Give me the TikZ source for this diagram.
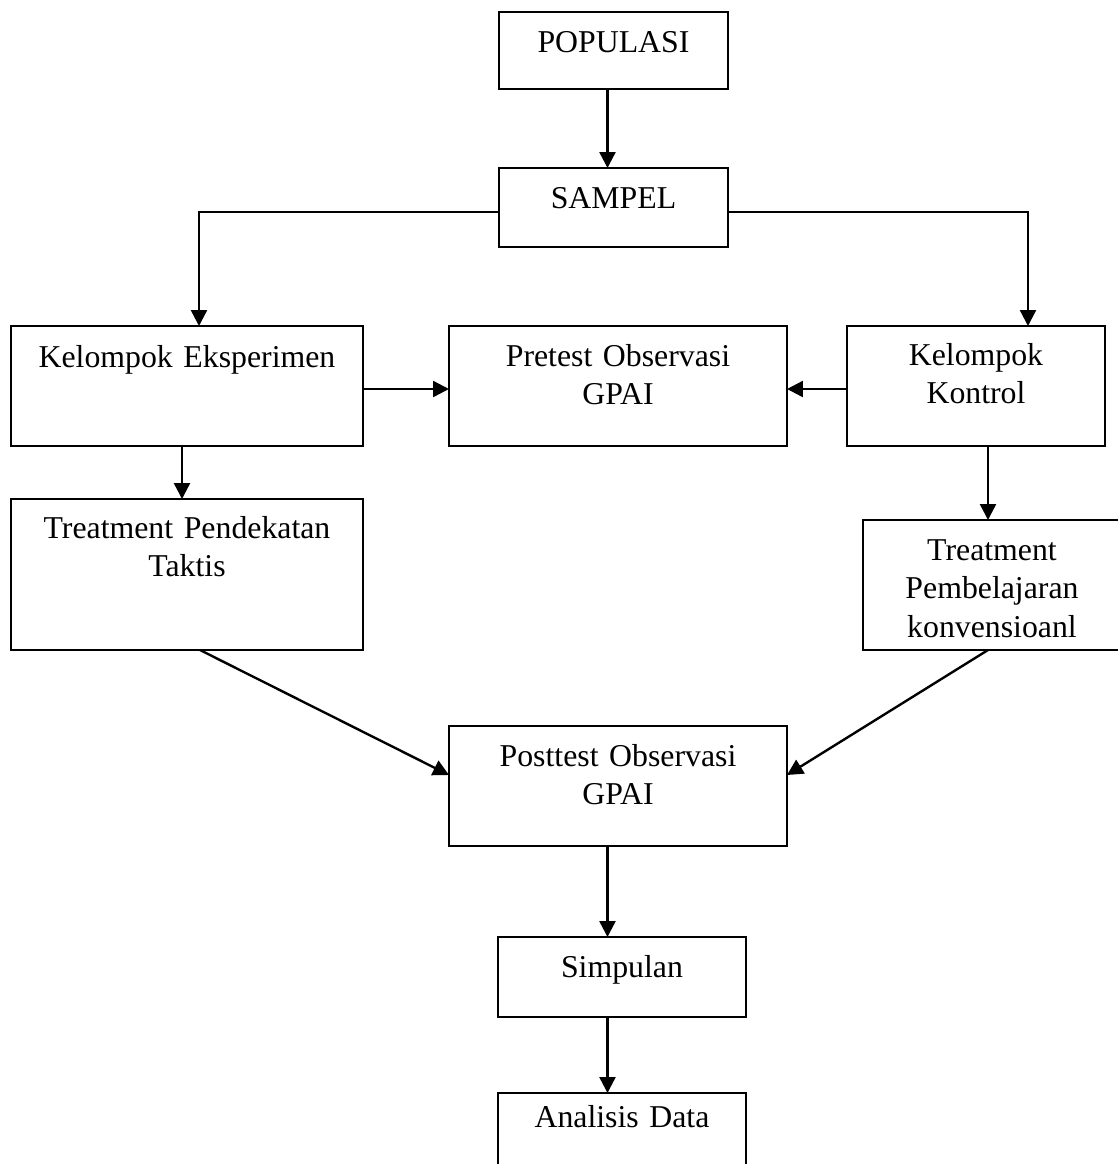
\documentclass[tikz,border=0pt]{standalone}
\usepackage{fontspec}
\setmainfont{Liberation Serif}
\usetikzlibrary{arrows.meta,positioning}
\newcommand{\sat}{0.3774pt}

\begin{document}
\begin{tikzpicture}[x=\sat,y=-\sat,
    kotak/.style={draw,line width=0.6pt,inner sep=0pt,outer sep=0pt},
    teks/.style={font=\fontsize{12}{14.7}\selectfont,align=center,anchor=base,inner sep=0pt},
    panah/.style={line width=0.9pt,-{Triangle[length=6pt,width=6pt]}}]

        % page is 1118 x 1164, y runs downward
        \fill[white] (0,0) rectangle (1118,1164);
        \clip (0,0) rectangle (1118,1164);

        % boxes
        \node[kotak,minimum width=229*\sat,minimum height=77*\sat] (pop) at (613.5,50.5) {};
        \node[kotak,minimum width=229*\sat,minimum height=79*\sat] (samp) at (613.5,207.5) {};
        \node[kotak,minimum width=352*\sat,minimum height=120*\sat] (ke) at (187,386) {};
        \node[kotak,minimum width=338*\sat,minimum height=120*\sat] (pre) at (618,386) {};
        \node[kotak,minimum width=258*\sat,minimum height=120*\sat] (kk) at (976,386) {};
        \node[kotak,minimum width=352*\sat,minimum height=151*\sat] (tp) at (187,574.5) {};
        \node[kotak,minimum width=258*\sat,minimum height=130*\sat] (tb) at (992,585) {};
        \node[kotak,minimum width=338*\sat,minimum height=120*\sat] (post) at (618,786) {};
        \node[kotak,minimum width=248*\sat,minimum height=80*\sat] (simp) at (622,977) {};
        \node[kotak,minimum width=248*\sat,minimum height=80*\sat] (anal) at (622,1133) {};

        % texts, first baseline about 40 below the top edge
        \node[teks,text width=220*\sat] (popT) at ([yshift=-40*\sat]pop.north) {POPULASI};
        \node[teks,text width=220*\sat] (sampT) at ([yshift=-40*\sat]samp.north) {SAMPEL};
        \node[teks,text width=340*\sat] (keT) at ([yshift=-41*\sat]ke.north) {Kelompok Eksperimen};
        \node[teks,text width=330*\sat] (preT) at ([yshift=-40*\sat]pre.north) {Pretest Observasi\\GPAI};
        \node[teks,text width=250*\sat] (kkT) at ([yshift=-39*\sat]kk.north) {Kelompok\\Kontrol};
        \node[teks,text width=340*\sat] (tpT) at ([yshift=-39*\sat]tp.north) {Treatment Pendekatan\\Taktis};
        \node[teks,text width=250*\sat] (tbT) at ([yshift=-40*\sat]tb.north) {Treatment\\Pembelajaran\\konvensioanl};
        \node[teks,text width=330*\sat] (postT) at ([yshift=-40*\sat]post.north) {Posttest Observasi\\GPAI};
        \node[teks,text width=240*\sat] (simpT) at ([yshift=-40*\sat]simp.north) {Simpulan};
        \node[teks,text width=240*\sat] (analT) at ([yshift=-34*\sat]anal.north) {Analisis Data};

        % helper coordinates for the connectors
        \coordinate (tengah) at (607.5,0);
        \coordinate (kiri) at (199,212);
        \coordinate (kanan) at (1028,212);
        \coordinate (bar) at (0,389);
        \coordinate (ki) at (182,0);
        \coordinate (ka) at (988,0);
        \coordinate (tpx) at (200,0);
        \coordinate (bw) at (0,775);

        % connectors
        \draw[panah] (pop.south -| tengah) -- (samp.north -| tengah);
        \draw[panah] (samp.west |- kiri) -- (kiri) -- (ke.north -| kiri);
        \draw[panah] (samp.east |- kanan) -- (kanan) -- (kk.north -| kanan);
        \draw[panah] (ke.east |- bar) -- (pre.west |- bar);
        \draw[panah] (kk.west |- bar) -- (pre.east |- bar);
        \draw[panah] (ke.south -| ki) -- (tp.north -| ki);
        \draw[panah] (kk.south -| ka) -- (tb.north -| ka);
        \draw[panah] (tp.south -| tpx) -- (post.west |- bw);
        \draw[panah] (tb.south -| ka) -- (post.east |- bw);
        \draw[panah] (post.south -| tengah) -- (simp.north -| tengah);
        \draw[panah] (simp.south -| tengah) -- (anal.north -| tengah);
    \end{tikzpicture}
\end{document}
